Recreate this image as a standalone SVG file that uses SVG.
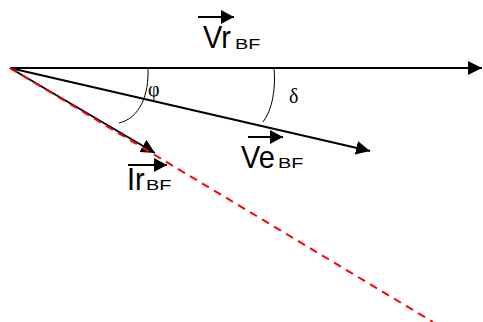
<svg xmlns="http://www.w3.org/2000/svg" width="483" height="322" viewBox="0 0 483 322">
<defs>
<marker id="ah" markerUnits="userSpaceOnUse" markerWidth="14" markerHeight="14" refX="14" refY="7" orient="auto"><path d="M0,0 L14,7 L0,14 z" fill="#000"/></marker>
<marker id="sh" markerUnits="userSpaceOnUse" markerWidth="14" markerHeight="14" refX="13" refY="7" orient="auto"><path d="M0,0 L13,7 L0,14 z" fill="#000"/></marker>
<style>
.v{stroke:#000;stroke-width:2;fill:none}
.arc{stroke:#000;stroke-width:1;fill:none}
.red{stroke:#ff0000;stroke-width:2;fill:none;stroke-dasharray:8,6}
.sa{stroke:#000;stroke-width:2;fill:none}
.lb{font-family:"Liberation Sans",Arial,sans-serif;font-size:29px;fill:#000}
.sb{font-family:"Liberation Sans",Arial,sans-serif;font-size:19px;fill:#000}
.gr{font-family:"Liberation Serif","Times New Roman",serif;font-size:20px;fill:#000}
</style>
</defs>
<g id="connectors">
<line class="v" x1="10" y1="68" x2="482" y2="68" marker-end="url(#ah)"/>
<line class="v" x1="10" y1="68" x2="370" y2="151" marker-end="url(#ah)"/>
<line class="v" x1="10" y1="68" x2="155" y2="153" marker-end="url(#ah)"/>
<line class="red" x1="10" y1="68" x2="433" y2="322"/>
<path class="arc" d="M148,68 C149,95 140,118 119,123"/>
<path class="arc" d="M274,68 C276,90 272,110 263,122"/>
</g>
<g id="label-vr">
<line class="sa" x1="198" y1="17" x2="234" y2="17" marker-end="url(#sh)"/>
<text class="lb" transform="translate(203,48) scale(1,1.1)">Vr</text>
<text class="sb" transform="translate(235,49) scale(1.05,0.8)">BF</text>
</g>
<g id="label-ve">
<line class="sa" x1="248" y1="137" x2="283" y2="137" marker-end="url(#sh)"/>
<text class="lb" transform="translate(241,168) scale(1,1.1)">Ve</text>
<text class="sb" transform="translate(278,168) scale(1.05,0.8)">BF</text>
</g>
<g id="label-ir">
<line class="sa" x1="128" y1="165" x2="167" y2="165" marker-end="url(#sh)"/>
<text class="lb" transform="translate(127,190) scale(1,1.1)">Ir</text>
<text class="sb" transform="translate(146,190) scale(1.05,0.8)">BF</text>
</g>
<g id="label-phi"><text class="gr" x="148" y="96">φ</text></g>
<g id="label-delta"><text class="gr" x="289" y="103">δ</text></g>
</svg>
